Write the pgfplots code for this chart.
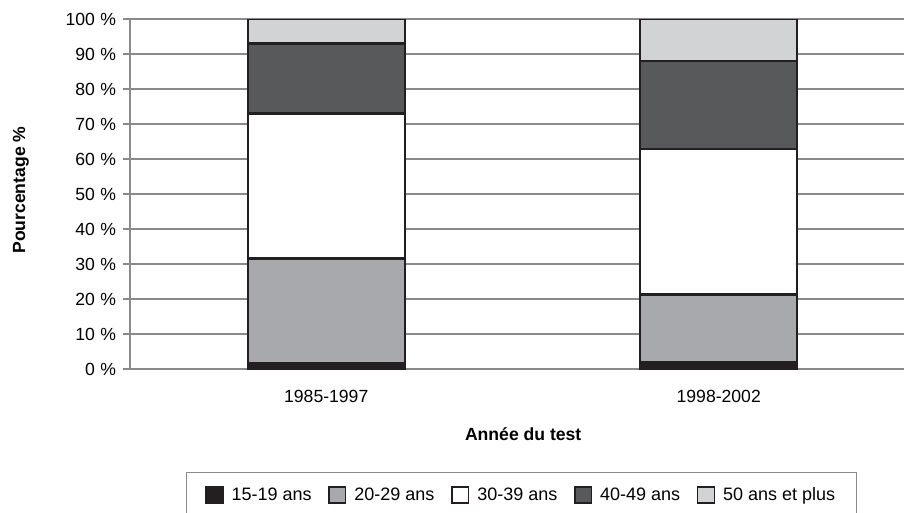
\documentclass[border=0pt]{standalone}
\usepackage{pgfplots}
\pgfplotsset{compat=1.18}
\usepackage{fontspec}
\setmainfont{Liberation Sans}
\definecolor{cA}{HTML}{231F20}
\definecolor{cB}{HTML}{A7A9AC}
\definecolor{cC}{HTML}{FFFFFF}
\definecolor{cD}{HTML}{58595B}
\definecolor{cE}{HTML}{D1D3D4}
\definecolor{gridc}{HTML}{8A8A8A}
\begin{document}
\begin{tikzpicture}
\begin{axis}[
  at={(0pt,0pt)}, anchor=south west,
  scale only axis, width=580.5pt, height=262.5pt,
  font=\fontsize{13.2pt}{15pt}\selectfont,
  /pgf/number format/assume math mode=true,
  ybar stacked, bar width=0.4,
  xmin=-0.5, xmax=1.472, ymin=0, ymax=100,
  axis x line*=bottom, axis y line*=left,
  axis line style={gridc, line width=0.9pt},
  xtick={0,1}, xticklabels={1985-1997,1998-2002},
  major x tick style={draw=none},
  extra x ticks={-0.5,0.5}, extra x tick labels={},
  extra x tick style={major tick length=5pt, tick align=outside, tick style={gridc, line width=0.8pt}, grid=none},
  ytick={0,10,...,100},
  yticklabel={\pgfmathprintnumber{\tick}\hspace{0.3em}\%},
  ytick style={gridc, line width=0.8pt},
  tick align=outside, major tick length=5pt,
  ymajorgrids, grid style={gridc, line width=0.8pt},
  xticklabel style={yshift=-7pt},
  yticklabel style={xshift=-2pt},
  xlabel={\bfseries Année du test},
  xlabel style={at={(axis description cs:0.508,-0.186)}, anchor=center},
  ylabel={\bfseries Pourcentage \%},
  ylabel style={at={(axis description cs:-0.141,0.511)}, anchor=center},
  every axis plot/.append style={draw=cA, line width=1.8pt},
  legend columns=5,
  legend style={at={(0.506,-0.36)}, anchor=center, draw=gridc, line width=0.8pt,
    font=\fontsize{13.5pt}{15pt}\selectfont, inner xsep=14pt, inner ysep=9.5pt,
    /tikz/every odd column/.append style={column sep=4pt},
    /tikz/every even column/.append style={column sep=10.5pt}},
  legend image code/.code={\draw[#1, line width=1.1pt] (0pt,-6pt) rectangle (12.5pt,6pt);},
]
\addplot[fill=cA] coordinates {(0,1.8) (1,1.9)};
\addplot[fill=cB] coordinates {(0,29.8) (1,19.4)};
\addplot[fill=cC] coordinates {(0,41.4) (1,41.6)};
\addplot[fill=cD] coordinates {(0,20.0) (1,25.1)};
\addplot[fill=cE] coordinates {(0,7.0) (1,12.0)};
\legend{15-19 ans,20-29 ans,30-39 ans,40-49 ans,50 ans et plus}
\end{axis}
\pgfresetboundingbox
\path (-97.5pt,-107.25pt) rectangle (580.5pt,276.75pt);
\end{tikzpicture}
\end{document}
